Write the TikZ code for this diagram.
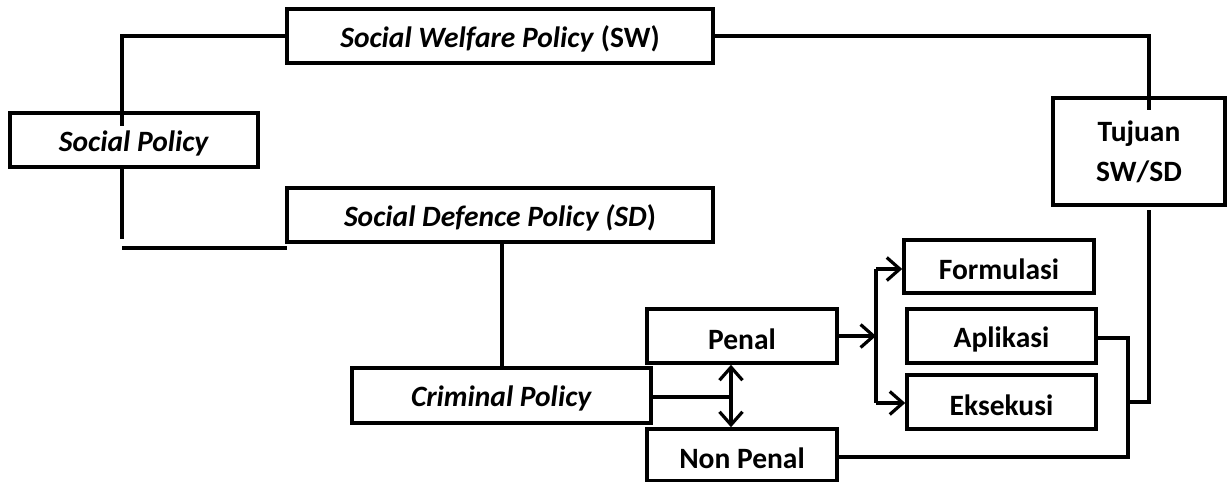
\documentclass[tikz,border=0pt]{standalone}
\usepackage{fontspec}
\setmainfont{Carlito}
\usetikzlibrary{arrows.meta}
\newcommand{\lowertext}[1]{\raisebox{-3pt}[\height][\depth]{#1}}
\begin{document}
\begin{tikzpicture}[x=1pt,y=-1pt,
  box/.style={draw, line width=3.6pt, rectangle, inner sep=0pt, align=center,
    font=\fontsize{29.5}{34}\selectfont\bfseries},
  conn/.style={line width=3.2pt},
  barb/.style={-{Straight Barb[length=13pt,width=23pt,line width=3.2pt]}},
  dbarb/.style={{Straight Barb[length=13pt,width=23pt,line width=3.2pt]}-{Straight Barb[length=13pt,width=23pt,line width=3.2pt]}}
]
\useasboundingbox (0,0) rectangle (1227,482);
% nodes
\node[box, minimum width=426pt, minimum height=54pt] (sw) at (500,36) {\lowertext{\textit{Social Welfare Policy} (SW)}};
\node[box, minimum width=248pt, minimum height=54pt] (sp) at (134,140) {\lowertext{\textit{Social Policy}}};
\node[box, minimum width=426pt, minimum height=54pt] (sd) at (500,215) {\lowertext{\textit{Social Defence Policy (SD}{)}}};
\node[box, minimum width=172pt, minimum height=107pt] (tj) at (1139,151.5) {Tujuan\\[6pt]SW/SD};
\node[box, minimum width=299pt, minimum height=55pt] (cp) at (501.5,395.5) {\lowertext{\textit{Criminal Policy}}};
\node[box, minimum width=190pt, minimum height=54pt] (pe) at (742,336) {\lowertext{Penal}};
\node[box, minimum width=190pt, minimum height=52pt] (np) at (742,455) {\lowertext{Non Penal}};
\node[box, minimum width=190pt, minimum height=53pt] (fo) at (999,266.5) {\lowertext{Formulasi}};
\node[box, minimum width=189pt, minimum height=54pt] (ap) at (1001.5,336) {\lowertext{Aplikasi}};
\node[box, minimum width=189pt, minimum height=54pt] (ek) at (1001.5,402) {\lowertext{Eksekusi}};
% coordinates
\coordinate (swl) at (122,36);
\coordinate (spin) at (122,126);
\coordinate (spb) at (122,167);
\coordinate (spe) at (122,239);
\coordinate (hl1) at (122,248);
\coordinate (hl2) at (287,248);
\coordinate (swr) at (1149,36);
\coordinate (tjin) at (1149,110);
\coordinate (tjb) at (1149,210);
\coordinate (tjc) at (1149,402);
\coordinate (tje) at (1130,402);
\coordinate (apr) at (1128,338);
\coordinate (npr) at (1128,457);
\coordinate (cpr) at (731,397);
\coordinate (br) at (876,336);
\coordinate (bt) at (876,269);
\coordinate (bb) at (876,403);
% connectors
\draw[conn] (sw.west) -- (swl) -- (spin);
\draw[conn] (spb) -- (spe);
\draw[conn] (hl1) -- (hl2);
\draw[conn] (sw.east) -- (swr) -- (tjin);
\draw[conn] (tjb) -- (tjc) -- (tje);
\draw[conn] (ap.east |- apr) -- (apr) -- (npr) -- (np.east |- npr);
\draw[conn] (sd.south -| 502,0) -- (cp.north -| 502,0);
\draw[conn] (cp.east |- cpr) -- (cpr);
\draw[conn,dbarb] (pe.south -| cpr) -- (np.north -| cpr);
\draw[conn,barb] (pe.east) -- (br);
\draw[conn] (bt) -- (bb);
\draw[conn,barb] (bt) -- (fo.west |- bt);
\draw[conn,barb] (bb) -- (ek.west |- bb);
\end{tikzpicture}
\end{document}
